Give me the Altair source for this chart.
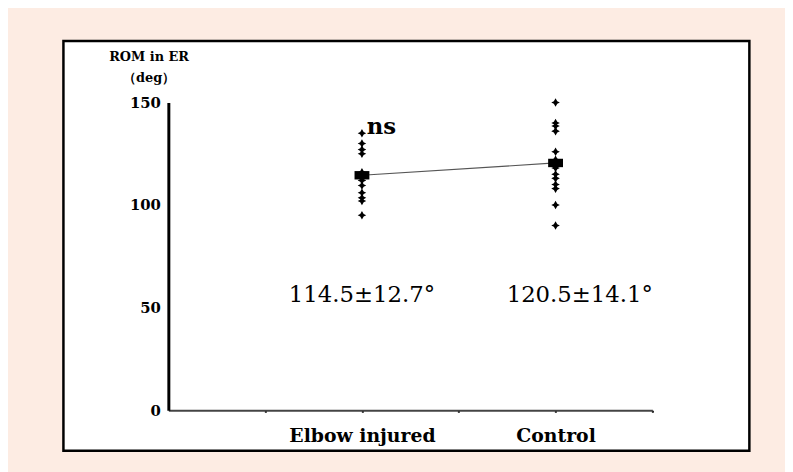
import altair as alt
import pandas as pd

# ---- data ----
groups = ["Elbow injured", "Control"]
group_pos = [2, 4]
elbow_values = [135, 130, 127, 125, 116, 112, 109.5, 106, 103.5, 102, 95]
control_values = [150, 140, 138.5, 136, 126, 122, 118, 115, 113, 110, 108, 100, 90]
means = [114.5, 120.5]
sds = [12.7, 14.1]
stat_labels = ["114.5\u00b112.7\u00b0", "120.5\u00b114.1\u00b0"]
x_tick_values = [1, 2, 3, 4, 5]
y_tick_values = [0, 50, 100, 150]

pts = pd.DataFrame(
    [{"x": group_pos[0], "v": v} for v in elbow_values]
    + [{"x": group_pos[1], "v": v} for v in control_values]
)
mean_df = pd.DataFrame({"x": group_pos, "v": means, "g": groups})
stat_df = pd.DataFrame({"x": [2.0, 4.25], "v": [56, 56], "t": stat_labels})
ns_df = pd.DataFrame({"x": [2.2], "v": [138], "t": ["ns"]})

SERIF = "DejaVu Serif"

xscale = alt.Scale(domain=[0, 5], nice=False, zero=False)
yscale = alt.Scale(domain=[0, 150], nice=False)

label_expr = "datum.value == 2 ? 'Elbow injured' : (datum.value == 4 ? 'Control' : '')"

x_axis = alt.Axis(
    values=x_tick_values, labelExpr=label_expr, title=None, grid=False,
    domainColor="#444444", domainWidth=2, tickColor="#000000", tickSize=2, tickWidth=2,
    labelFont=SERIF, labelFontWeight="bold", labelFontSize=19, labelColor="#000000",
    labelPadding=15, zindex=1,
)
y_axis = alt.Axis(
    values=y_tick_values, title=["ROM in ER", "\uff08deg\uff09"], grid=False,
    domainColor="#000000", domainWidth=3, ticks=False,
    labelFont=SERIF, labelFontWeight="bold", labelFontSize=15, labelColor="#000000",
    labelPadding=8,
    titleFont=SERIF, titleFontWeight="bold", titleFontSize=13, titleColor="#000000",
    titleAngle=0, titleAlign="center", titleBaseline="alphabetic",
    titleX=-20, titleY=-42, titleLineHeight=21, zindex=1,
)

frame = alt.Chart(pd.DataFrame({"a": [0]})).mark_rect(
    fill="white", stroke="black", strokeWidth=2.5
).encode(
    x=alt.value(-106), x2=alt.value(587), y=alt.value(-62), y2=alt.value(352)
)

base_x = alt.X("x:Q", scale=xscale, axis=x_axis)
base_y = alt.Y("v:Q", scale=yscale, axis=y_axis)

star = "M-1,0L-0.4,-0.3L0,-1L0.4,-0.3L1,0L0.4,0.3L0,1L-0.4,0.3Z"
points = alt.Chart(pts).mark_point(
    shape=star, filled=True, color="black", size=75, opacity=1
).encode(x=base_x, y=base_y)

line = alt.Chart(mean_df).mark_line(color="#555555", strokeWidth=1.2).encode(
    x=alt.X("x:Q", scale=xscale), y=alt.Y("v:Q", scale=yscale)
)

rect_shape = "M-1.5,-0.85L1.5,-0.85L1.5,0.85L-1.5,0.85Z"
mean_marks = alt.Chart(mean_df).mark_point(
    shape=rect_shape, filled=True, color="black", size=100, opacity=1
).encode(x=alt.X("x:Q", scale=xscale), y=alt.Y("v:Q", scale=yscale))

stats = alt.Chart(stat_df).mark_text(
    font=SERIF, fontSize=23, color="black", align="center", baseline="middle"
).encode(x=alt.X("x:Q", scale=xscale), y=alt.Y("v:Q", scale=yscale), text="t:N")

ns = alt.Chart(ns_df).mark_text(
    font=SERIF, fontSize=23, fontWeight="bold", color="black", align="center", baseline="middle"
).encode(x=alt.X("x:Q", scale=xscale), y=alt.Y("v:Q", scale=yscale), text="t:N")

chart = alt.layer(frame, line, points, mean_marks, stats, ns).properties(
    width=489, height=311,
    autosize=alt.AutoSizeParams(type="none"),
    padding={"left": 162, "top": 93, "right": 134, "bottom": 60},
    background="#FDECE3",
).configure_view(stroke=None)

chart.save("out.html", embed_options={"renderer": "svg", "actions": False})
